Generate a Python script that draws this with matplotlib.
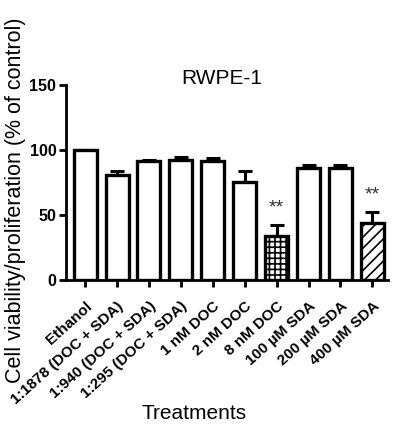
import matplotlib
matplotlib.use("Agg")
import matplotlib.pyplot as plt
import numpy as np

plt.rcParams['font.family'] = ['Liberation Sans', 'DejaVu Sans']
plt.rcParams['hatch.linewidth'] = 1.2

categories = ["Ethanol", "1:1878 (DOC + SDA)", "1:940 (DOC + SDA)", "1:295 (DOC + SDA)",
              "1 nM DOC", "2 nM DOC", "8 nM DOC", "100 µM SDA", "200 µM SDA", "400 µM SDA"]
values = [100, 81, 91.5, 92, 91.8, 75.6, 33.8, 86.4, 85.9, 43.6]
errors = [0, 2.6, 1.2, 2.5, 2.3, 8.2, 8.4, 2.0, 2.6, 8.5]
hatches = ['', '', '', '', '', '', '+++', '', '', '///']
signif = ['', '', '', '', '', '', '**', '', '', '**']

fig = plt.figure(figsize=(3.93, 4.26), dpi=100)
ax = fig.add_axes([0.168, 0.343, 0.82, 0.457])
x = np.arange(len(categories))
ax.bar(x, values, width=0.72, color='white', edgecolor='black', linewidth=2.4,
       hatch=hatches, zorder=2)
ax.errorbar(x, values, yerr=[np.zeros(len(errors)), errors], fmt='none', ecolor='black',
            elinewidth=2.2, capsize=5, capthick=2.2, zorder=1)
for xi, v, e, s in zip(x, values, errors, signif):
    if s:
        ax.text(xi, v + e + 10, s, ha='center', va='baseline', fontsize=14, color='#333333')

ax.set_xlim(-0.6, 9.5)
ax.set_ylim(0, 150)
ax.set_yticks([0, 50, 100, 150])
ax.set_xticks(x)
ax.set_xticklabels(categories, rotation=42, ha='right', rotation_mode='anchor',
                   fontsize=11, fontweight='bold')
for lab in ax.get_yticklabels():
    lab.set_fontweight('bold')
    lab.set_fontsize(11.5)
ax.spines['top'].set_visible(False)
ax.spines['right'].set_visible(False)
ax.spines['left'].set_linewidth(2.0)
ax.spines['bottom'].set_linewidth(2.0)
ax.tick_params(axis='both', width=2.0, length=5, direction='out', pad=2)
ax.tick_params(axis='x', pad=9)
fig.text(0.04, 0.53, "Cell viability/proliferation (% of control)", rotation=90,
         ha='center', va='center', fontsize=15.5)
fig.text(0.565, 0.815, "RWPE-1", ha='center', va='center', fontsize=15)
fig.text(0.495, 0.03, "Treatments", ha='center', va='center', fontsize=15)

fig.savefig("out.png", dpi=100)
